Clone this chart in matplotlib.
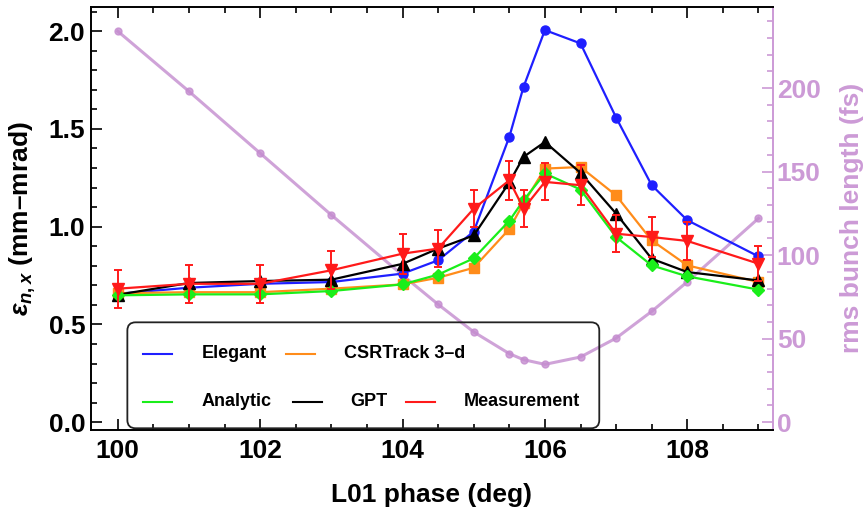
import matplotlib
matplotlib.use("Agg")
import matplotlib.pyplot as plt
from matplotlib.patches import FancyBboxPatch
from matplotlib.ticker import MultipleLocator

plt.rcParams["font.family"] = "Liberation Sans"
plt.rcParams["font.weight"] = "bold"
plt.rcParams["mathtext.fontset"] = "custom"
plt.rcParams["mathtext.rm"] = "Liberation Sans:bold"
plt.rcParams["mathtext.it"] = "Liberation Sans:italic:bold"

# L01 phase (deg)
phase = [100, 101, 102, 103, 104, 104.5, 105, 105.5, 105.7, 106, 106.5, 107, 107.5, 108, 109]

# normalized emittance (mm-mrad)
elegant = [0.657, 0.688, 0.708, 0.717, 0.76, 0.828, 0.975, 1.459, 1.715, 2.005, 1.937, 1.558, 1.212, 1.033, 0.848]
csrtrack = [0.66, 0.665, 0.665, 0.683, 0.705, 0.739, 0.79, 0.988, 1.12, 1.297, 1.305, 1.16, 0.93, 0.802, 0.717]
analytic = [0.649, 0.654, 0.654, 0.671, 0.705, 0.755, 0.838, 1.03, 1.135, 1.272, 1.19, 0.947, 0.802, 0.746, 0.678]
gpt = [0.652, 0.712, 0.722, 0.729, 0.81, 0.888, 0.955, 1.226, 1.357, 1.433, 1.275, 1.067, 0.836, 0.768, 0.725]
measured = [0.683, 0.708, 0.708, 0.777, 0.862, 0.888, 1.092, 1.237, 1.092, 1.229, 1.212, 0.964, 0.947, 0.927, 0.811]
meas_err = [0.097, 0.096, 0.096, 0.098, 0.102, 0.094, 0.094, 0.1, 0.096, 0.094, 0.102, 0.096, 0.102, 0.096, 0.091]

# rms bunch length (fs)
bunch = [234, 198, 161, 124, 88, 70.5, 54, 41, 37.4, 34.6, 39, 50.3, 66.3, 84, 122]

purple = "#cc9ad6"

fig = plt.figure(figsize=(8.65, 5.12), dpi=100)
ax = fig.add_axes([0.1049, 0.1611, 0.7884, 0.8252])
ax2 = ax.twinx()
ax.set_zorder(ax2.get_zorder() + 1)
ax.patch.set_visible(False)

ax2.plot(phase, bunch, color="#c48ccf", lw=2.2, alpha=0.8, marker="o", ms=5)

ax.plot(phase, elegant, color="#1f1fff", lw=1.6, marker="o", ms=6.5)
ax.plot(phase, csrtrack, color="#ff8c1a", lw=1.6, marker="s", ms=7.5)
ax.plot(phase, gpt, color="black", lw=1.6, marker="^", ms=8.5)
ax.plot(phase, analytic, color="#1aee1a", lw=1.6, marker="D", ms=6.5)
ax.errorbar(phase, measured, yerr=meas_err, color="#ff1a1a", lw=1.6, marker="v",
            ms=8.5, capsize=3, elinewidth=1.4, capthick=1.4)

ax.set_xlim(99.62, 109.2)
ax.set_ylim(-0.037, 2.123)
ax2.set_ylim(-4.4, 248.5)

ax.xaxis.set_major_locator(MultipleLocator(2))
ax.xaxis.set_minor_locator(MultipleLocator(0.5))
ax.yaxis.set_major_locator(MultipleLocator(0.5))
ax.yaxis.set_minor_locator(MultipleLocator(0.1))
ax2.yaxis.set_major_locator(MultipleLocator(50))
ax2.yaxis.set_minor_locator(MultipleLocator(10))
ax.yaxis.set_major_formatter(matplotlib.ticker.FormatStrFormatter("%.1f"))

ax.tick_params(which="both", direction="in", top=True, right=False, labelsize=19, width=1.2)
ax.tick_params(which="major", length=8)
ax.tick_params(which="minor", length=4.5)
ax.tick_params(axis="x", pad=7)
ax.tick_params(axis="y", pad=4)
ax2.tick_params(which="both", direction="in", colors=purple, labelsize=19, width=1.2, pad=3)
ax2.tick_params(which="major", length=8)
ax2.tick_params(which="minor", length=4.5)

for s in ["left", "top", "bottom"]:
    ax.spines[s].set_linewidth(1.4)
ax.spines["right"].set_visible(False)
for s in ["left", "top", "bottom"]:
    ax2.spines[s].set_visible(False)
ax2.spines["right"].set_color(purple)
ax2.spines["right"].set_linewidth(1.4)

ax.set_xlabel("L01 phase (deg)", fontsize=19, fontweight="bold")
ax.xaxis.set_label_coords(0.499, -0.127)
ax.set_ylabel(r"$\epsilon_{n,x}$ (mm–mrad)", fontsize=19, fontweight="bold")
ax.yaxis.set_label_coords(-0.077, 0.5)
ax2.set_ylabel("rms bunch length (fs)", fontsize=19, fontweight="bold", color=purple)
ax2.yaxis.set_label_coords(1.099, 0.5)

# legend drawn by hand: two rows, uneven columns
box = FancyBboxPatch((0.0537, 0.003), 0.692, 0.2507, boxstyle="round,pad=0,rounding_size=0.012",
                     mutation_aspect=1.614, transform=ax.transAxes, fill=False,
                     edgecolor="#222222", lw=1.3, clip_on=False, zorder=5)
ax.add_patch(box)
entries = [
    ("Elegant", "#1f1fff", 0.0771, 0.1628, 0.1787, 0.1685),
    ("CSRTrack 3–d", "#ff8c1a", 0.2864, 0.3714, 0.1787, 0.1685),
    ("Analytic", "#1aee1a", 0.0771, 0.1628, 0.0658, 0.0563),
    ("GPT", "black", 0.2962, 0.3802, 0.0658, 0.0563),
    ("Measurement", "#ff1a1a", 0.4623, 0.5463, 0.0658, 0.0563),
]
for label, c, hx, tx, ly, by in entries:
    ax.plot([hx, hx + 0.0425], [ly, ly], color=c, lw=1.5, transform=ax.transAxes, clip_on=False, zorder=6)
    ax.text(tx, by, label, transform=ax.transAxes, fontsize=13, fontweight="bold",
            va="baseline", ha="left", zorder=6)

fig.savefig("out.png", dpi=100)
